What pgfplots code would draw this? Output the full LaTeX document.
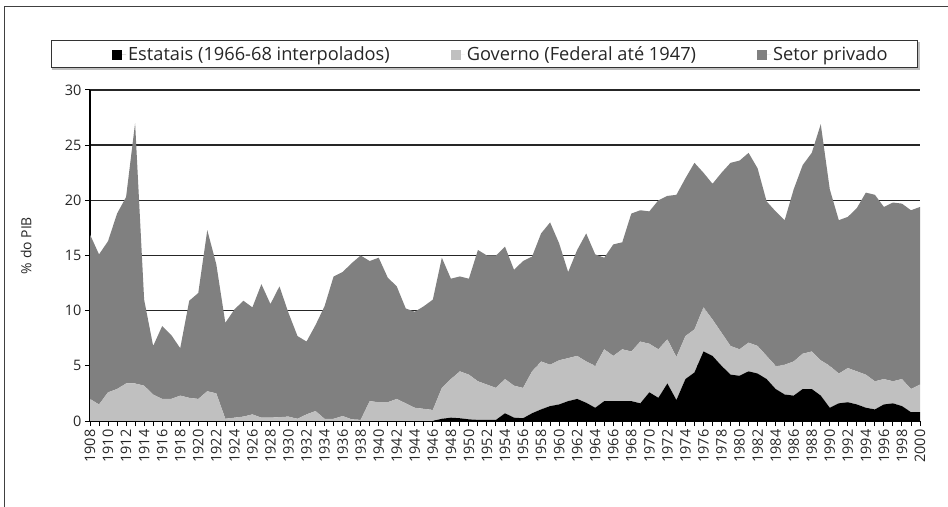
\documentclass[border=0pt]{standalone}
\usepackage{pgfplots}
\usepackage{pgfplotstable}
\pgfplotsset{compat=1.18}
\usepackage{fontspec}
\setmainfont{Open Sans}
\definecolor{privcol}{HTML}{808080}
\definecolor{govcol}{HTML}{C0C0C0}
\pgfplotstableread{
year E Gov Priv
1908 0 2.0 14.9
1909 0 1.5 13.6
1910 0 2.6 13.7
1911 0 2.9 15.9
1912 0 3.4 16.9
1913 0 3.4 23.6
1914 0 3.2 7.8
1915 0 2.4 4.4
1916 0 2.0 6.6
1917 0 2.0 5.8
1918 0 2.3 4.3
1919 0 2.1 8.8
1920 0 2.0 9.6
1921 0 2.7 14.6
1922 0 2.5 11.7
1923 0 0.2 8.7
1924 0 0.3 9.8
1925 0 0.4 10.5
1926 0 0.6 9.7
1927 0 0.3 12.1
1928 0 0.3 10.3
1929 0 0.35 11.85
1930 0 0.4 9.4
1931 0 0.2 7.5
1932 0 0.6 6.6
1933 0 0.9 7.8
1934 0 0.2 10.2
1935 0 0.2 12.9
1936 0 0.45 13.05
1937 0 0.15 14.15
1938 0 0.1 14.9
1939 0 1.8 12.7
1940 0 1.7 13.1
1941 0 1.7 11.3
1942 0 2.0 10.2
1943 0 1.6 8.6
1944 0 1.2 8.7
1945 0 1.1 9.3
1946 0 1.0 10.0
1947 0.2 2.8 11.8
1948 0.3 3.5 9.1
1949 0.25 4.25 8.6
1950 0.15 4.05 8.7
1951 0.1 3.5 11.9
1952 0.1 3.2 11.7
1953 0.1 2.9 12.0
1954 0.7 3.1 12.0
1955 0.3 2.9 10.5
1956 0.25 2.75 11.5
1957 0.7 3.8 10.4
1958 1.05 4.35 11.6
1959 1.35 3.75 12.9
1960 1.5 4.0 10.6
1961 1.8 3.9 7.8
1962 2.0 3.9 9.6
1963 1.65 3.75 11.6
1964 1.2 3.8 10.1
1965 1.8 4.7 8.3
1966 1.8 4.1 10.1
1967 1.8 4.7 9.7
1968 1.8 4.5 12.5
1969 1.6 5.6 11.9
1970 2.6 4.4 12.0
1971 2.1 4.4 13.5
1972 3.4 4.0 13.0
1973 1.9 3.9 14.7
1974 3.8 3.9 14.3
1975 4.4 3.9 15.1
1976 6.3 4.0 12.2
1977 5.9 3.3 12.3
1978 5.0 3.0 14.5
1979 4.2 2.6 16.6
1980 4.1 2.4 17.1
1981 4.5 2.6 17.2
1982 4.3 2.5 16.1
1983 3.8 2.1 14.0
1984 2.9 2.1 14.0
1985 2.4 2.7 13.1
1986 2.3 3.1 15.6
1987 2.9 3.2 17.1
1988 2.9 3.4 18.0
1989 2.3 3.2 21.4
1990 1.2 3.8 16.0
1991 1.6 2.7 13.9
1992 1.7 3.1 13.7
1993 1.5 3.0 14.8
1994 1.2 3.0 16.5
1995 1.05 2.55 16.9
1996 1.5 2.3 15.6
1997 1.6 2.0 16.2
1998 1.35 2.45 15.9
1999 0.8 2.1 16.2
2000 0.8 2.5 16.1
}\datatable
\begin{document}
\begin{tikzpicture}
\useasboundingbox (0bp,0bp) rectangle (948bp,507bp);
\draw[black!75, line width=1bp] (4.5bp,-20bp) rectangle (1000bp,500bp);
\draw[black!25, line width=2bp] (52bp,437.5bp) -- (919bp,437.5bp) -- (919bp,465bp);
\draw[black!80, line width=1bp] (51bp,439bp) rectangle (917bp,466bp);
\begin{axis}[
  at={(90bp,86bp)}, anchor=south west,
  scale only axis, width=830bp, height=331bp,
  xmin=1908, xmax=2000, ymin=0, ymax=30,
  stack plots=y,
  axis lines*=left,
  axis line style={black, line width=1.3bp},
  tick align=outside,
  ytick={0,5,...,30},
  xtick={1908,1910,...,2000},
  minor xtick={1909,1911,...,1999},
  major tick length=5bp, minor tick length=5bp,
  tick style={black, line width=1bp},
  ymajorgrids,
  grid style={black!85, line width=1.5bp},
  /pgf/number format/assume math mode=true,
  /pgf/number format/1000 sep={},
  ticklabel style={font=\fontsize{14.5}{16}\selectfont, text=black!85},
  xticklabel style={rotate=90, anchor=east},
  ylabel={\% do PIB},
  ylabel style={at={(axis description cs:-0.077,0.53)}, anchor=center, font=\fontsize{14}{16}\selectfont, text=black!85},
  legend columns=3,
  legend style={at={(axis description cs:0.0228,1.107)}, anchor=west, draw=none, fill=none,
    font=\fontsize{18.3}{21}\selectfont, text=black!85,
    /tikz/every even column/.append style={column sep=59bp}},
  legend image code/.code={\path[#1, draw=none] (0bp,-5bp) rectangle (10bp,5bp); \path (0bp,0bp) -- (14bp,0bp);},
]
\addplot[fill=black, draw=none] table[x=year, y=E] {\datatable} \closedcycle;
\addlegendentry{Estatais (1966-68 interpolados)}
\addplot[fill=govcol, draw=none] table[x=year, y=Gov] {\datatable} \closedcycle;
\addlegendentry{Governo (Federal até 1947)}
\addplot[fill=privcol, draw=none] table[x=year, y=Priv] {\datatable} \closedcycle;
\addlegendentry{Setor privado}
\draw[black, line width=1.3bp] (axis cs:1908,0) -- (axis cs:2000,0);
\draw[black, line width=1.3bp] (axis cs:1908,0) -- (axis cs:1908,30);
\end{axis}
\end{tikzpicture}
\end{document}
